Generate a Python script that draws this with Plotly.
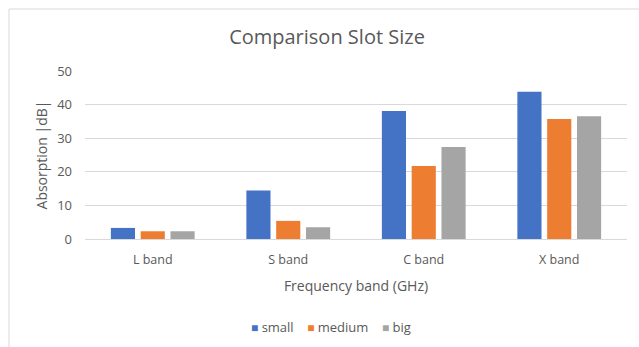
import plotly.graph_objects as go

# Absorption per frequency band for three slot sizes
bands = ["L band", "S band", "C band", "X band"]
small = [3.3, 14.4, 38.1, 43.8]
medium = [2.3, 5.4, 21.7, 35.7]
big = [2.3, 3.5, 27.4, 36.5]
y_ticks = [0, 10, 20, 30, 40, 50]

series = [("small", small, "#4472C4"), ("medium", medium, "#ED7D31"), ("big", big, "#A5A5A5")]

fig = go.Figure()
for name, vals, color in series:
    fig.add_trace(go.Bar(x=bands, y=vals, name=name, marker=dict(color=color, line=dict(width=0))))

FONT = "Open Sans"
GREY = "#595959"

fig.update_layout(
    width=639, height=347,
    margin=dict(l=85, r=12, t=71, b=108),
    paper_bgcolor="white", plot_bgcolor="white",
    barmode="group", bargap=0.34, bargroupgap=0.19,
    font=dict(family=FONT, color=GREY, size=13),
    title=dict(text="Comparison Slot Size", x=327 / 639, xanchor="center",
               y=1 - 37 / 347, yanchor="middle",
               font=dict(family=FONT, size=20, color=GREY)),
    xaxis=dict(showgrid=False, showline=False, zeroline=False, ticks="",
               tickfont=dict(size=12.5, color=GREY), ticklabelstandoff=11,
               title=dict(text="Frequency band (GHz)", font=dict(size=14, color=GREY), standoff=14)),
    yaxis=dict(range=[0, 50], tickvals=y_ticks, showgrid=True, gridcolor="#D9D9D9", gridwidth=1,
               zeroline=True, zerolinecolor="#D9D9D9", zerolinewidth=1, showline=False, ticks="",
               tickfont=dict(size=13, color=GREY), ticklabelstandoff=12,
               title=dict(text="Absorption |dB|", font=dict(size=14, color=GREY), standoff=6)),
    showlegend=False,
)

# compact legend row: coloured square followed by the series name
legend_text = "&nbsp;&nbsp;&nbsp;&nbsp;".join(
    f"<span style='color:{color};font-size:12px'>■</span>&nbsp;{name}" for name, _, color in series
)
fig.add_annotation(text=legend_text, xref="paper", yref="paper",
                   x=(331 - 85) / 542, y=(239 - 327) / 168, xanchor="center", yanchor="middle",
                   showarrow=False, font=dict(family=FONT, size=13, color=GREY))

# chart area frame (top and left edges)
fig.add_shape(type="line", xref="paper", yref="paper",
              x0=(9 - 85) / 542, x1=1.2, y0=(239 - 9) / 168, y1=(239 - 9) / 168,
              line=dict(color="#D9D9D9", width=1))
fig.add_shape(type="line", xref="paper", yref="paper",
              x0=(9 - 85) / 542, x1=(9 - 85) / 542, y0=(239 - 9) / 168, y1=-1,
              line=dict(color="#D9D9D9", width=1))

fig.write_html("out.html")
